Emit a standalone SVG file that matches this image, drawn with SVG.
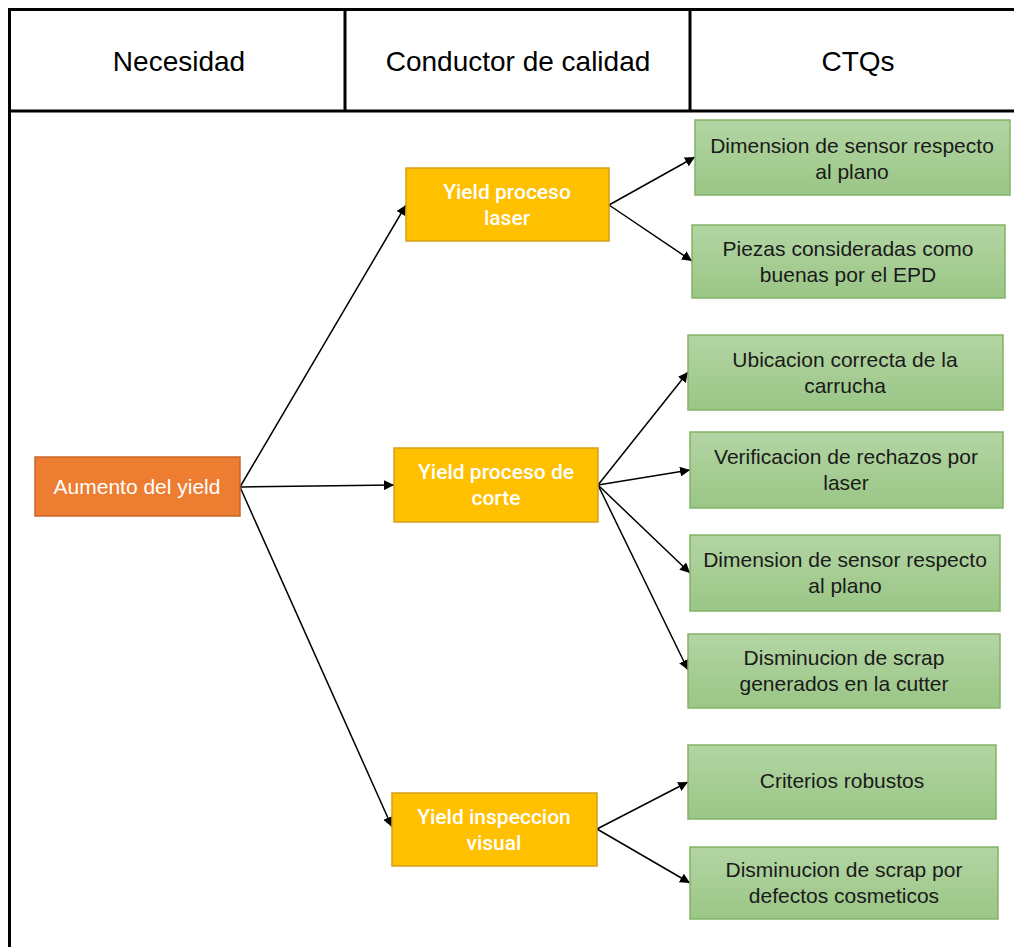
<svg xmlns="http://www.w3.org/2000/svg" width="1014" height="947" viewBox="0 0 1014 947">
  <defs>
    <linearGradient id="greenFill" x1="0" y1="0" x2="0" y2="1">
      <stop offset="0" stop-color="#B3D5A3"/>
      <stop offset="1" stop-color="#9AC686"/>
    </linearGradient>
    <marker id="arrow" viewBox="0 0 10 10" refX="10" refY="5" markerWidth="10" markerHeight="10" markerUnits="userSpaceOnUse" orient="auto">
      <path d="M0,0 L10,5 L0,10 Z" fill="#000"/>
    </marker>
    <style>
      .grid { fill: none; stroke: #000; stroke-width: 3; }
      .head { font-family: "Liberation Sans", Arial, sans-serif; font-size: 28px; fill: #000; text-anchor: middle; }
      .root { fill: #ED7D31; stroke: #C5672A; stroke-width: 1.5; }
      .mid { fill: #FFC000; stroke: #D4A017; stroke-width: 1.5; }
      .ctq { fill: url(#greenFill); stroke: #82B366; stroke-width: 1.5; }
      .wt { font-family: Roboto, "Liberation Sans", sans-serif; font-size: 21px; font-weight: 500; fill: #FFF; text-anchor: middle; }
      .wa { font-family: "Liberation Sans", Arial, sans-serif; font-size: 21px; fill: #FFF; text-anchor: middle; }
      .bt { font-family: "Liberation Sans", Arial, sans-serif; font-size: 21px; fill: #1A1A1A; text-anchor: middle; }
      .link { stroke: #000; stroke-width: 1.5; fill: none; marker-end: url(#arrow); }
    </style>
  </defs>

  <rect width="1014" height="947" fill="#FFF"/>

  <!-- table frame -->
  <g id="table">
    <path class="grid" d="M9.5,960 V9.5 H1030 M9.5,111 H1030 M345,9.5 V111 M690,9.5 V111"/>
    <text class="head" x="179" y="71">Necesidad</text>
    <text class="head" x="518" y="71">Conductor de calidad</text>
    <text class="head" x="858" y="71">CTQs</text>
  </g>

  <!-- connectors -->
  <g id="connectors">
    <line class="link" x1="240" y1="487" x2="406" y2="205"/>
    <line class="link" x1="240" y1="487" x2="394" y2="485"/>
    <line class="link" x1="240" y1="487" x2="392" y2="827"/>
    <line class="link" x1="609" y1="205" x2="695" y2="157"/>
    <line class="link" x1="609" y1="205" x2="692" y2="261"/>
    <line class="link" x1="598" y1="485" x2="688" y2="372"/>
    <line class="link" x1="598" y1="485" x2="690" y2="470"/>
    <line class="link" x1="598" y1="485" x2="690" y2="573"/>
    <line class="link" x1="598" y1="485" x2="688" y2="670"/>
    <line class="link" x1="597" y1="829" x2="688" y2="782"/>
    <line class="link" x1="597" y1="829" x2="690" y2="883"/>
  </g>

  <g id="aumento">
    <rect class="root" x="35" y="457" width="205" height="59"/>
    <text class="wa" x="137" y="494">Aumento del yield</text>
  </g>

  <g id="yield-laser">
    <rect class="mid" x="406" y="168" width="203" height="73"/>
    <text class="wt" x="507" y="199">Yield proceso</text>
    <text class="wt" x="507" y="225">laser</text>
  </g>

  <g id="yield-corte">
    <rect class="mid" x="394" y="448" width="204" height="74"/>
    <text class="wt" x="496" y="479">Yield proceso de</text>
    <text class="wt" x="496" y="505">corte</text>
  </g>

  <g id="yield-inspeccion">
    <rect class="mid" x="392" y="793" width="205" height="73"/>
    <text class="wt" x="494" y="824">Yield inspeccion</text>
    <text class="wt" x="494" y="850">visual</text>
  </g>

  <g id="ctq-dimension-laser">
    <rect class="ctq" x="695" y="120" width="315" height="75"/>
    <text class="bt" x="852" y="153">Dimension de sensor respecto</text>
    <text class="bt" x="852" y="179">al plano</text>
  </g>

  <g id="ctq-piezas">
    <rect class="ctq" x="692" y="225" width="313" height="73"/>
    <text class="bt" x="848" y="256">Piezas consideradas como</text>
    <text class="bt" x="848" y="282">buenas por el EPD</text>
  </g>

  <g id="ctq-ubicacion">
    <rect class="ctq" x="688" y="335" width="315" height="75"/>
    <text class="bt" x="845" y="367">Ubicacion correcta de la</text>
    <text class="bt" x="845" y="393">carrucha</text>
  </g>

  <g id="ctq-verificacion">
    <rect class="ctq" x="690" y="432" width="313" height="76"/>
    <text class="bt" x="846" y="464">Verificacion de rechazos por</text>
    <text class="bt" x="846" y="490">laser</text>
  </g>

  <g id="ctq-dimension-corte">
    <rect class="ctq" x="690" y="535" width="310" height="76"/>
    <text class="bt" x="845" y="567">Dimension de sensor respecto</text>
    <text class="bt" x="845" y="593">al plano</text>
  </g>

  <g id="ctq-scrap-cutter">
    <rect class="ctq" x="688" y="634" width="312" height="74"/>
    <text class="bt" x="844" y="665">Disminucion de scrap</text>
    <text class="bt" x="844" y="691">generados en la cutter</text>
  </g>

  <g id="ctq-criterios">
    <rect class="ctq" x="688" y="745" width="308" height="74"/>
    <text class="bt" x="842" y="788">Criterios robustos</text>
  </g>

  <g id="ctq-scrap-cosmeticos">
    <rect class="ctq" x="690" y="847" width="308" height="72"/>
    <text class="bt" x="844" y="877">Disminucion de scrap por</text>
    <text class="bt" x="844" y="903">defectos cosmeticos</text>
  </g>
</svg>
